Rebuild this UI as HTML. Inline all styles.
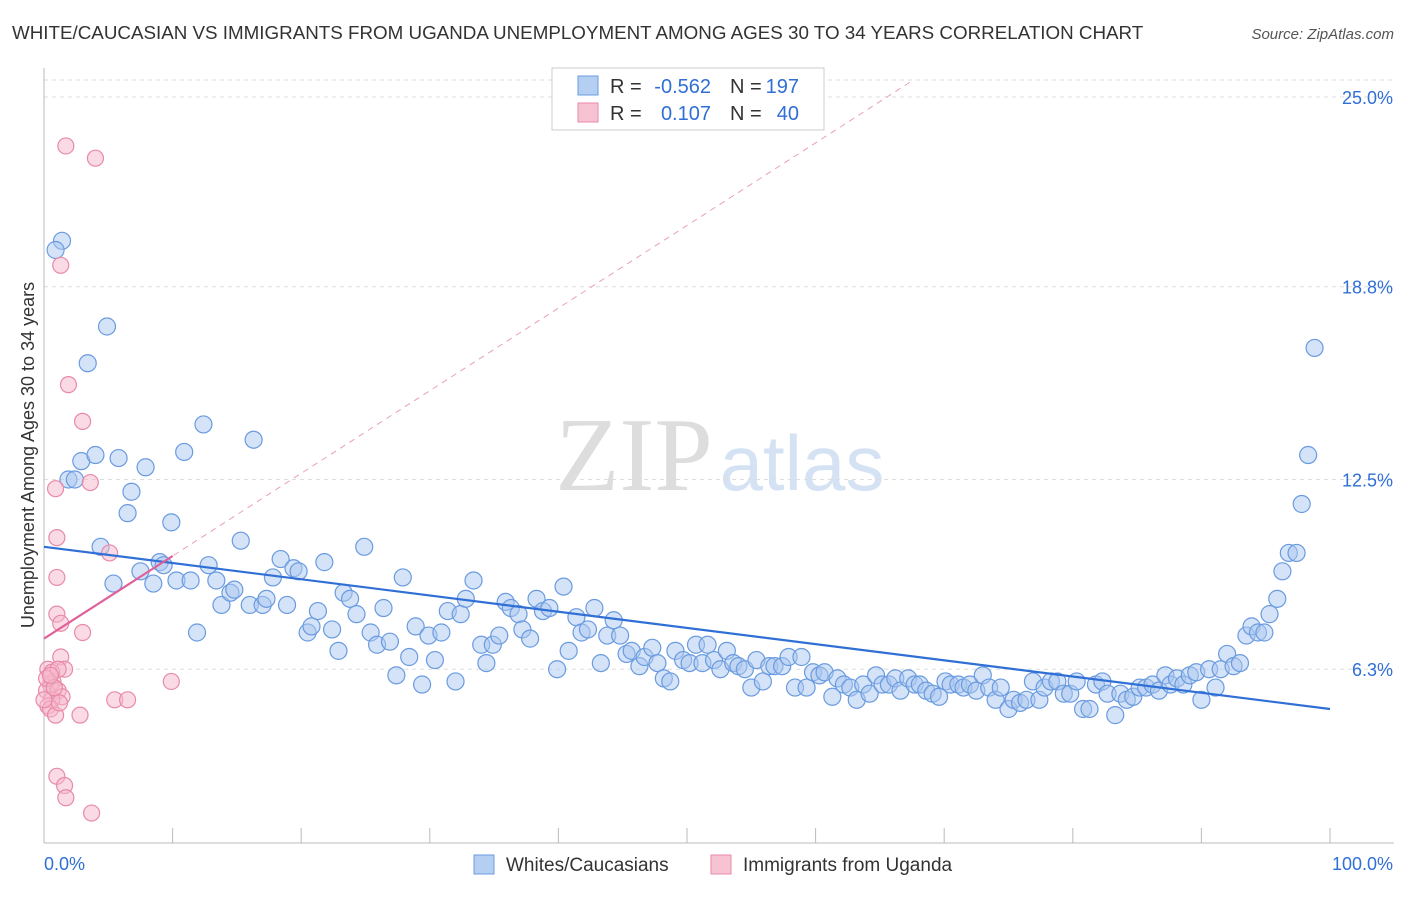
<!DOCTYPE html>
<html><head><meta charset="utf-8">
<style>
body{margin:0;width:1406px;height:892px;background:#fff;font-family:"Liberation Sans",sans-serif;overflow:hidden}
</style></head>
<body>
<svg id="chart" width="1406" height="892" xmlns="http://www.w3.org/2000/svg" style="font-family:'Liberation Sans',sans-serif">
<text x="12" y="39" font-size="18.8" fill="#333">WHITE/CAUCASIAN VS IMMIGRANTS FROM UGANDA UNEMPLOYMENT AMONG AGES 30 TO 34 YEARS CORRELATION CHART</text>
<text x="1394" y="39" font-size="15" fill="#555" text-anchor="end" font-style="italic">Source: ZipAtlas.com</text>
<g><text x="634" y="490" font-size="105" fill="#ddd" text-anchor="middle" font-family="Liberation Serif">ZIP</text><text x="802" y="490" font-size="78" fill="#d4e2f4" text-anchor="middle">atlas</text></g>
<text transform="translate(34,455) rotate(-90)" font-size="18" fill="#333" text-anchor="middle">Unemployment Among Ages 30 to 34 years</text>
<g id="grid"></g><g id="axes"></g><g id="marks"></g>
<g>
<rect x="552" y="68" width="272" height="62" fill="#fff" stroke="#ccc"/>
<rect x="578" y="76" width="20" height="19" fill="#b5cff2" stroke="#6a9be0"/>
<rect x="578" y="103" width="20" height="19" fill="#f7c3d2" stroke="#e88aa8"/>
<text x="610" y="93" font-size="20" fill="#333">R =</text>
<text x="711" y="93" font-size="20" fill="#2f6fd6" text-anchor="end">-0.562</text>
<text x="730" y="93" font-size="20" fill="#333">N =</text>
<text x="799" y="93" font-size="20" fill="#2f6fd6" text-anchor="end">197</text>
<text x="610" y="120" font-size="20" fill="#333">R =</text>
<text x="711" y="120" font-size="20" fill="#2f6fd6" text-anchor="end">0.107</text>
<text x="730" y="120" font-size="20" fill="#333">N =</text>
<text x="799" y="120" font-size="20" fill="#2f6fd6" text-anchor="end">40</text>
</g>
<g>
<rect x="474" y="855" width="20" height="19" fill="#b5cff2" stroke="#6a9be0"/>
<text x="506" y="871" font-size="19" fill="#333">Whites/Caucasians</text>
<rect x="711" y="855" width="20" height="19" fill="#f7c3d2" stroke="#e88aa8"/>
<text x="743" y="871" font-size="19" fill="#333">Immigrants from Uganda</text>
</g>
</svg>
<script>
const yTicks=[25.0,18.8,12.5,6.3];
const yTickLabels=["25.0%","18.8%","12.5%","6.3%"];
const xTickLabels=["0.0%","100.0%"];
const blueX=[1.4,0.9,4.9,3.4,2.9,4.0,1.9,2.4,5.8,7.9,6.8,12.4,10.9,16.3,6.5,9.9,4.4,15.3,5.4,7.5,8.5,9.0,9.3,10.3,11.4,11.9,12.8,13.4,13.8,14.5,14.8,16.0,17.0,17.3,17.8,18.4,18.9,19.4,19.8,20.5,20.8,21.3,21.8,22.4,22.9,23.3,23.8,24.3,24.9,25.4,25.9,26.4,26.9,27.4,27.9,28.4,28.9,29.4,29.9,30.4,30.9,31.4,32.0,32.4,32.8,33.4,34.0,34.4,34.9,35.4,35.9,36.3,36.9,37.2,37.8,38.3,38.8,39.3,39.9,40.4,40.8,41.4,41.8,42.3,42.8,43.3,43.8,44.3,44.8,45.3,45.7,46.3,46.7,47.3,47.7,48.2,48.7,49.1,49.7,50.2,50.7,51.2,51.6,52.1,52.6,53.1,53.6,54.0,54.5,55.0,55.4,55.9,56.4,56.8,57.4,57.9,58.4,58.9,59.3,59.8,60.3,60.7,61.3,61.7,62.2,62.7,63.2,63.7,64.2,64.7,65.2,65.7,66.2,66.6,67.2,67.7,68.1,68.6,69.1,69.6,70.1,70.5,71.1,71.5,72.0,72.5,73.0,73.5,74.0,74.4,75.0,75.4,75.9,76.4,76.9,77.4,77.8,78.3,78.8,79.3,79.8,80.3,80.8,81.3,81.8,82.3,82.7,83.3,83.7,84.2,84.7,85.2,85.7,86.2,86.7,87.2,87.6,88.1,88.6,89.1,89.6,90.0,90.6,91.1,91.5,92.0,92.5,93.0,93.5,93.9,94.4,94.9,95.3,95.9,96.3,96.8,97.4,97.8,98.3,98.8];
const blueY=[20.3,20.0,17.5,16.3,13.1,13.3,12.5,12.5,13.2,12.9,12.1,14.3,13.4,13.8,11.4,11.1,10.3,10.5,9.1,9.5,9.1,9.8,9.7,9.2,9.2,7.5,9.7,9.2,8.4,8.8,8.9,8.4,8.4,8.6,9.3,9.9,8.4,9.6,9.5,7.5,7.7,8.2,9.8,7.6,6.9,8.8,8.6,8.1,10.3,7.5,7.1,8.3,7.2,6.1,9.3,6.7,7.7,5.8,7.4,6.6,7.5,8.2,5.9,8.1,8.6,9.2,7.1,6.5,7.1,7.4,8.5,8.3,8.1,7.6,7.3,8.6,8.2,8.3,6.3,9.0,6.9,8.0,7.5,7.6,8.3,6.5,7.4,7.9,7.4,6.8,6.9,6.4,6.7,7.0,6.5,6.0,5.9,6.9,6.6,6.5,7.1,6.5,7.1,6.6,6.3,6.9,6.5,6.4,6.3,5.7,6.6,5.9,6.4,6.4,6.4,6.7,5.7,6.7,5.7,6.2,6.1,6.2,5.4,6.0,5.8,5.7,5.3,5.8,5.5,6.1,5.8,5.8,6.0,5.6,6.0,5.8,5.8,5.6,5.5,5.4,5.9,5.8,5.8,5.7,5.8,5.6,6.1,5.7,5.3,5.7,5.0,5.3,5.2,5.3,5.9,5.3,5.7,5.9,5.9,5.5,5.5,5.9,5.0,5.0,5.8,5.9,5.5,4.8,5.5,5.3,5.4,5.7,5.7,5.8,5.6,6.1,5.8,6.0,5.8,6.1,6.2,5.3,6.3,5.7,6.3,6.8,6.4,6.5,7.4,7.7,7.5,7.5,8.1,8.6,9.5,10.1,10.1,11.7,13.3,16.8];
const pinkX=[1.7,4.0,1.3,1.9,3.0,3.6,0.9,1.0,5.1,1.0,1.0,1.3,3.0,1.3,1.6,0.3,0.7,0.5,0.2,1.1,1.4,0.6,0.3,0.5,0.9,2.8,5.5,6.5,9.9,1.0,1.6,1.7,3.7,0.6,0.2,1.1,0,0.8,0.5,1.2];
const pinkY=[23.4,23.0,19.5,15.6,14.4,12.4,12.2,10.6,10.1,9.3,8.1,7.8,7.5,6.7,6.3,6.3,5.9,5.8,5.6,5.6,5.4,5.3,5.1,5.0,4.8,4.8,5.3,5.3,5.9,2.8,2.5,2.1,1.6,6.2,6.0,6.3,5.3,5.7,6.1,5.2];
const blueTrend=[[0,10.3],[100,5.0]];
const pinkTrend=[[0,7.3],[10,10.0]];
const pinkDash=[[0,7.3],[67.4,25.5]];

const X=v=>44+v*12.86;
const Y=v=>862-v*30.6;
const NS="http://www.w3.org/2000/svg";
function mk(tag,attrs,parent){const e=document.createElementNS(NS,tag);for(const k in attrs)e.setAttribute(k,attrs[k]);parent.appendChild(e);return e;}
const grid=document.getElementById('grid'),axes=document.getElementById('axes'),marks=document.getElementById('marks');
yTicks.forEach((t,i)=>{
  const l=mk('line',{x1:44,x2:1394,y1:Y(t),y2:Y(t),stroke:'#ddd','stroke-dasharray':'4,4'},grid);
  
  
  const tx=mk('text',{x:1393,y:Y(t)+7,'font-size':18,fill:'#2f6fd6','text-anchor':'end'},axes);
  tx.textContent=yTickLabels[i];
  
  
});
const topGrid=mk('line',{x1:44,x2:1394,y1:80,y2:80,stroke:'#ddd','stroke-dasharray':'4,4'},grid);


const ya=mk('line',{x1:44,x2:44,y1:68,y2:843,stroke:'#bbb'},axes);


const xa=mk('line',{x1:44,x2:1394,y1:843,y2:843,stroke:'#bbb'},axes);


for(let i=1;i<=10;i++){const t=mk('line',{x1:X(i*10),x2:X(i*10),y1:828,y2:843,stroke:'#bbb'},axes);

}
[[0,'start',44],[100,'end',1393]].forEach((d,i)=>{const t=mk('text',{x:d[2],y:870,'font-size':18,fill:'#2f6fd6','text-anchor':d[1]},axes);t.textContent=xTickLabels[i];

});
blueX.forEach((v,i)=>{const c=mk('circle',{cx:X(v),cy:Y(blueY[i]),r:8.5,fill:'rgba(169,200,240,0.5)',stroke:'#6a9be0','stroke-width':1.2},marks);

});
pinkX.forEach((v,i)=>{const c=mk('circle',{cx:X(v),cy:Y(pinkY[i]),r:8,fill:'rgba(245,184,203,0.5)',stroke:'#e88aa8','stroke-width':1.2},marks);

});
const pd=mk('line',{x1:X(pinkDash[0][0]),y1:Y(pinkDash[0][1]),x2:X(pinkDash[1][0]),y2:Y(pinkDash[1][1]),stroke:'#e8a0b8','stroke-dasharray':'6,5','stroke-width':1},marks);


const bt=mk('line',{x1:X(blueTrend[0][0]),y1:Y(blueTrend[0][1]),x2:X(blueTrend[1][0]),y2:Y(blueTrend[1][1]),stroke:'#2f6fd6','stroke-width':2.2},marks);


const pt=mk('line',{x1:X(pinkTrend[0][0]),y1:Y(pinkTrend[0][1]),x2:X(pinkTrend[1][0]),y2:Y(pinkTrend[1][1]),stroke:'#e0609a','stroke-width':2.2},marks);


</script>
</body></html>
